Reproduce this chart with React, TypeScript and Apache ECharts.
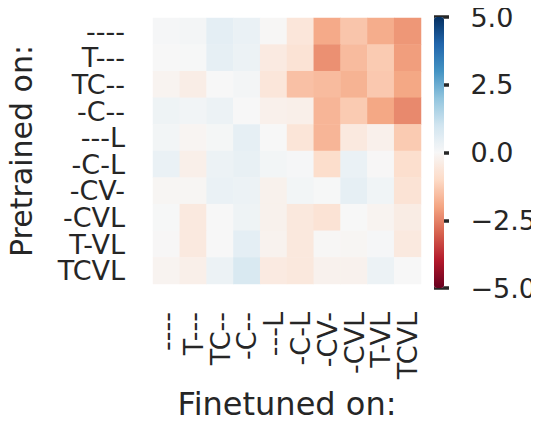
import React, { useEffect, useRef } from "react";
import * as echarts from "echarts";

const rowLabels = ["----", "T---", "TC--", "-C--", "---L", "-C-L", "-CV-", "-CVL", "T-VL", "TCVL"];
const colLabels = ["----", "T---", "TC--", "-C--", "---L", "-C-L", "-CV-", "-CVL", "T-VL", "TCVL"];

// rows = pretrained on, cols = finetuned on
const row0 = [0.05, 0.1, 0.5, 0.35, -0.05, -0.6, -1.9, -1.4, -1.85, -2.2];
const row1 = [0.0, 0.02, 0.45, 0.3, -0.45, -0.7, -2.3, -1.6, -1.3, -2.1];
const row2 = [-0.15, -0.35, 0.0, 0.1, -0.6, -1.5, -1.6, -1.75, -1.35, -1.95];
const row3 = [0.25, 0.15, 0.3, 0.0, -0.25, -0.3, -1.7, -1.3, -1.95, -2.4];
const row4 = [0.12, -0.1, 0.08, 0.45, 0.0, -0.65, -1.7, -0.5, -0.25, -1.3];
const row5 = [0.35, -0.3, 0.3, 0.4, 0.12, 0.05, -0.9, 0.35, -0.02, -0.85];
const row6 = [-0.08, -0.08, 0.35, 0.3, -0.22, 0.12, 0.02, 0.45, 0.18, -0.7];
const row7 = [0.02, -0.5, 0.0, 0.25, -0.22, -0.55, -0.7, 0.0, -0.15, -0.4];
const row8 = [-0.02, -0.5, 0.0, 0.5, -0.18, -0.55, -0.05, -0.08, 0.05, -0.5];
const row9 = [-0.15, -0.3, 0.28, 0.8, -0.45, -0.55, -0.2, -0.2, 0.28, 0.0];
const rows = [row0, row1, row2, row3, row4, row5, row6, row7, row8, row9];

const colorbarTicks = [-5, -2.5, 0, 2.5, 5];

const RdBu = [
  "#67001f", "#b2182b", "#d6604d", "#f4a582", "#fddbc7", "#f7f7f7",
  "#d1e5f0", "#92c5de", "#4393c3", "#2166ac", "#053061",
];

const FONT = "DejaVu Sans";
const TXT = "#262626";

export default function App() {
  const ref = useRef<HTMLDivElement>(null);
  useEffect(() => {
    if (!ref.current) return;
    const chart = echarts.init(ref.current, undefined, { renderer: "svg" });
    const data: [number, number, number][] = [];
    rows.forEach((r, i) => r.forEach((v, j) => data.push([j, i, v])));
    chart.setOption({
      animation: false,
      backgroundColor: "#ffffff",
      textStyle: { fontFamily: FONT },
      grid: [
        { left: 153, top: 18, width: 268, height: 269 },
        { left: 434, top: 17, width: 12, height: 271 },
      ],
      xAxis: [
        {
          type: "category",
          gridIndex: 0,
          data: colLabels,
          axisLine: { show: false },
          axisTick: { show: false },
          splitLine: { show: false },
          axisLabel: {
            rotate: 90,
            margin: 28,
            fontSize: 27,
            color: TXT,
            fontFamily: FONT,
            interval: 0,
          },
          name: "Finetuned on:",
          nameLocation: "middle",
          nameGap: 104,
          nameTextStyle: { fontSize: 32, color: TXT, fontFamily: FONT },
        },
        { type: "value", gridIndex: 1, show: false, min: 0, max: 1 },
      ],
      yAxis: [
        {
          type: "category",
          gridIndex: 0,
          data: rowLabels,
          inverse: true,
          axisLine: { show: false },
          axisTick: { show: false },
          splitLine: { show: false },
          axisLabel: {
            margin: 28,
            fontSize: 27,
            color: TXT,
            fontFamily: FONT,
            interval: 0,
          },
          name: "Pretrained on:",
          nameLocation: "middle",
          nameGap: 117,
          nameTextStyle: { fontSize: 30, color: TXT, fontFamily: FONT },
        },
        {
          type: "value",
          gridIndex: 1,
          position: "right",
          min: colorbarTicks[0],
          max: colorbarTicks[colorbarTicks.length - 1],
          interval: 2.5,
          axisLine: { show: false },
          splitLine: { show: false },
          axisTick: { show: true, length: 15, lineStyle: { width: 3.5, color: TXT } },
          axisLabel: {
            margin: 26,
            fontSize: 27,
            color: TXT,
            fontFamily: FONT,
            formatter: (v: number) => v.toFixed(1).replace("-", "\u2212"),
          },
        },
      ],
      visualMap: {
        type: "continuous",
        min: -5,
        max: 5,
        seriesIndex: 0,
        show: true,
        calculable: false,
        hoverLink: false,
        left: 434,
        top: 17,
        itemWidth: 10,
        itemHeight: 271,
        padding: 0,
        showLabel: false,
        inRange: { color: RdBu },
      },
      series: [
        {
          type: "heatmap",
          xAxisIndex: 0,
          yAxisIndex: 0,
          data,
          itemStyle: { borderWidth: 0 },
          emphasis: { disabled: true },
          label: { show: false },
        },
        {
          type: "line",
          xAxisIndex: 1,
          yAxisIndex: 1,
          data: [],
          silent: true,
        },
      ],
    });
    return () => chart.dispose();
  }, []);
  return <div ref={ref} style={{ width: 539, height: 425, margin: -8 }} />;
}
